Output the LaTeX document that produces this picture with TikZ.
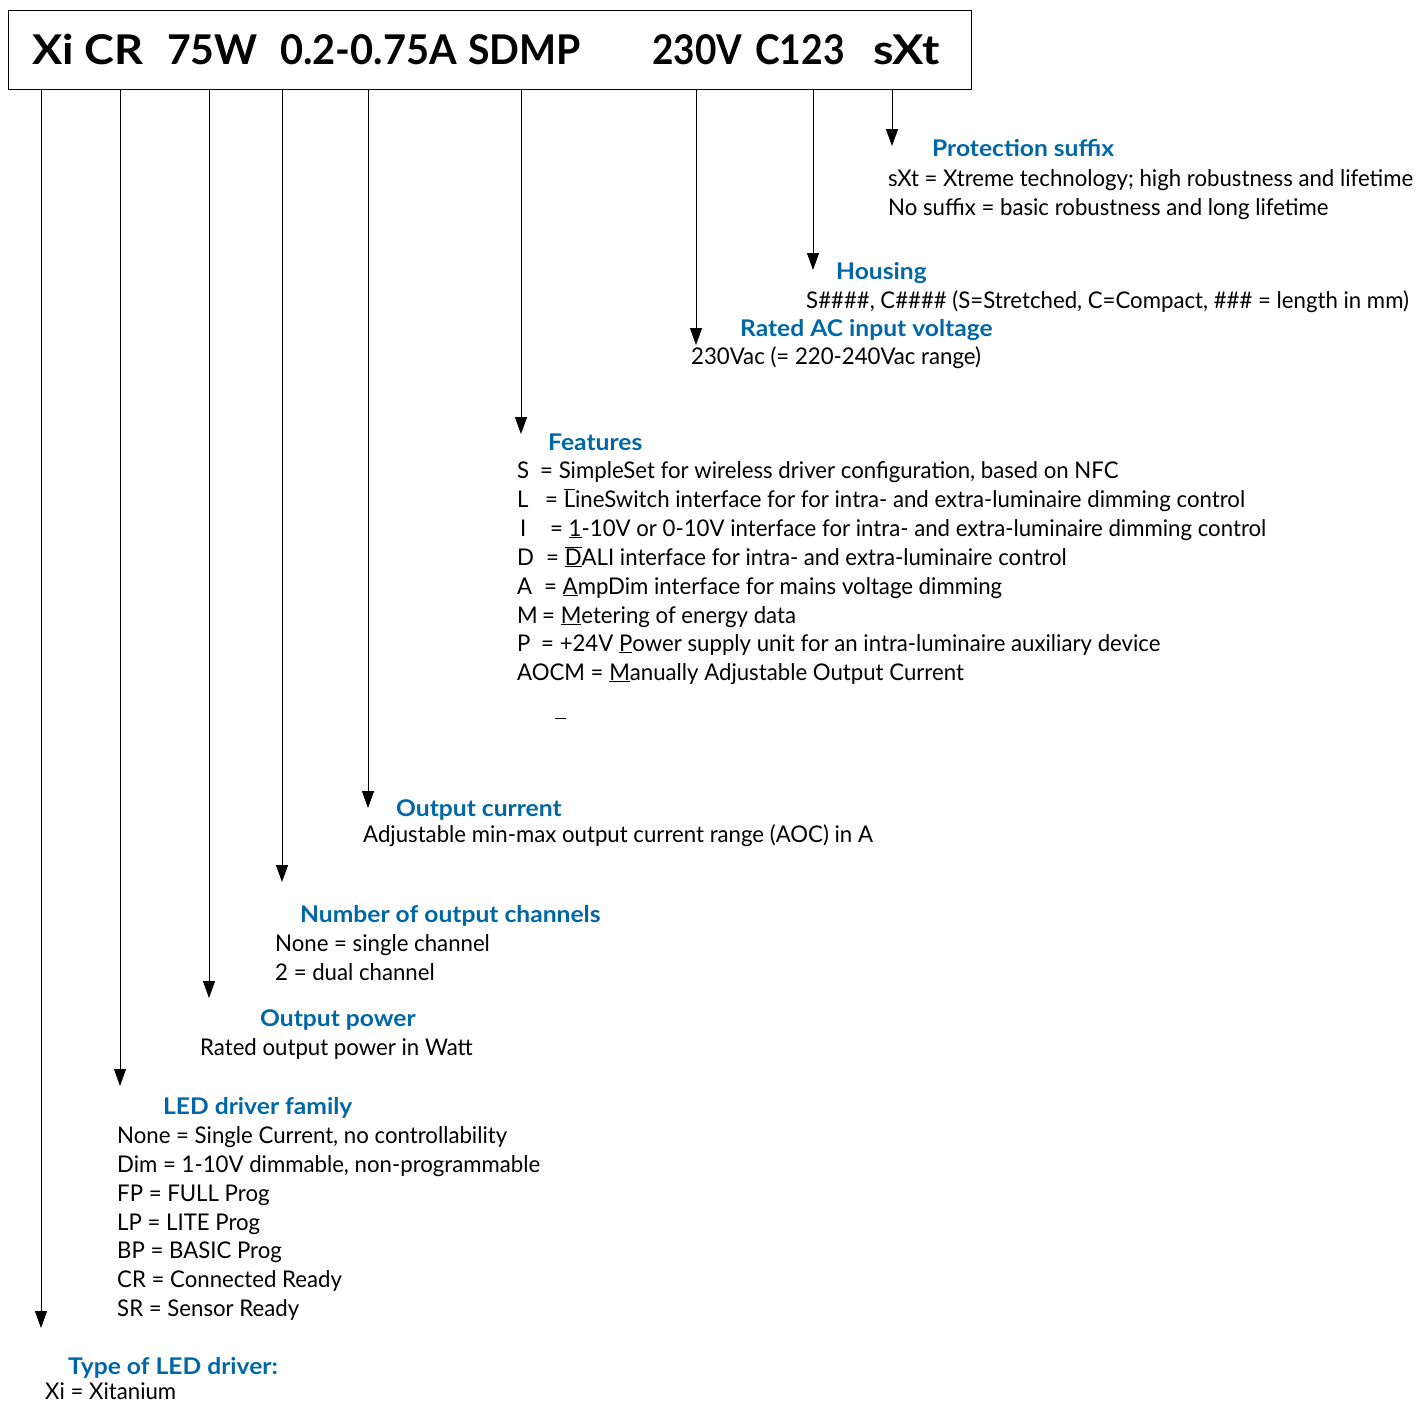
\documentclass[tikz,border=0pt]{standalone}
\usepackage{fontspec}
\setmainfont{Lato}[FakeStretch=0.965]
\newfontfamily\titlefont{Lato}[FakeStretch=1.07]
\newfontfamily\headfont{Lato}
\usetikzlibrary{arrows.meta}
\definecolor{titleblue}{RGB}{0,103,167}
\begin{document}
\begin{tikzpicture}[x=1pt,y=-1pt,
  body/.style={anchor=base west, inner sep=0pt, font=\fontsize{23}{28}\selectfont},
  title/.style={anchor=base west, inner sep=0pt, font=\titlefont\fontsize{23}{28}\selectfont\bfseries, text=titleblue},
  head/.style={anchor=base west, inner sep=0pt, font=\headfont\fontsize{41}{48}\selectfont\bfseries},
  lead/.style={line width=1pt, -{Triangle[length=17pt,width=12pt]}}]
\useasboundingbox (0,0) rectangle (1419,1403);
% header box
\node (box) [draw, line width=1pt, minimum width=963pt, minimum height=79pt, anchor=north west, inner sep=0pt] at (8,10) {};
\node (h1) [head] at (32,64) {\scalebox{1.10}[1]{Xi CR}};
\node (h2) [head] at (167,64) {75W};
\node (h3) [head] at (280,64) {\scalebox{0.97}[1]{0.2-0.75A}};
\node (h4) [head] at (468,64) {\scalebox{0.957}[1]{SDMP}};
\node (h5) [head] at (652,64) {\scalebox{0.90}[1]{230V}};
\node (h6) [head] at (755,64) {\scalebox{0.91}[1]{C123}};
\node (h7) [head] at (873,64) {\scalebox{1.14}[1]{sXt}};
% arrow tips
\coordinate (t1) at (41,1328);
\coordinate (t2) at (120,1086);
\coordinate (t3) at (209,998);
\coordinate (t4) at (282,882);
\coordinate (t5) at (368,808);
\coordinate (t6) at (521,434);
\coordinate (t7) at (696,345);
\coordinate (t8) at (813,270);
\coordinate (t9) at (892,146);
\foreach \t in {t1,t2,t3,t4,t5,t6,t7,t8,t9}
  \draw[lead] (box.south -| \t) -- (\t);
% protection suffix
\node (psT) [title] at (932,156) {Protection suffix};
\node (ps1) [body] at (888,186) {sXt = Xtreme technology; high robustness and lifetime};
\node (ps2) [body] at (888,215) {No suffix = basic robustness and long lifetime};
% housing
\node (hoT) [title] at (836,279) {Housing};
\node (ho1) [body] at (806,308) {S\#\#\#\#, C\#\#\#\# (S=Stretched, C=Compact, \#\#\# = length in mm)};
% rated AC
\node (acT) [title] at (740,336) {Rated AC input voltage};
\node (ac1) [body] at (691,364) {230Vac (= 220-240Vac range)};
% features
\node (feT) [title] at (548,450) {Features};
\node (fe1) [body] at (517,478) {\makebox[23pt][l]{S}= SimpleSet for wireless driver configuration, based on NFC};
\node (fe2) [body] at (517,507) {\makebox[28pt][l]{L}= $\overline{\mbox{L}}$ineSwitch interface for for intra- and extra-luminaire dimming control};
\node (fe3) [body] at (517,536) {\makebox[33pt][l]{\hspace{3pt}I}= \underline{1}-10V or 0-10V interface for intra- and extra-luminaire dimming control};
\node (fe4) [body] at (517,565) {\makebox[29pt][l]{D}= $\overline{\mbox{\underline{D}}}$ALI interface for intra- and extra-luminaire control};
\node (fe5) [body] at (517,594) {\makebox[27pt][l]{A}= \underline{A}mpDim interface for mains voltage dimming};
\node (fe6) [body] at (517,623) {\makebox[25pt][l]{M}= \underline{M}etering of energy data};
\node (fe7) [body] at (517,651) {\makebox[24pt][l]{P}= +24V \underline{P}ower supply unit for an intra-luminaire auxiliary device};
\node (fe8) [body] at (517,680) {AOCM = \underline{M}anually Adjustable Output Current};
\draw[line width=1pt] (555,718) -- (566,718);
% output current
\node (ocT) [title] at (396,816) {Output current};
\node (oc1) [body] at (363,842) {Adjustable min-max output current range (AOC) in A};
% channels
\node (ncT) [title] at (300,922) {Number of output channels};
\node (nc1) [body] at (275,951) {None = single channel};
\node (nc2) [body] at (275,980) {2 = dual channel};
% output power
\node (opT) [title] at (260,1026) {Output power};
\node (op1) [body] at (200,1055) {Rated output power in Watt};
% family
\node (ldT) [title] at (163,1114) {LED driver family};
\node (ld1) [body] at (117,1143) {None = Single Current, no controllability};
\node (ld2) [body] at (117,1172) {Dim = 1-10V dimmable, non-programmable};
\node (ld3) [body] at (117,1201) {FP = FULL Prog};
\node (ld4) [body] at (117,1230) {LP = LITE Prog};
\node (ld5) [body] at (117,1258) {BP = BASIC Prog};
\node (ld6) [body] at (117,1287) {CR = Connected Ready};
\node (ld7) [body] at (117,1316) {SR = Sensor Ready};
% type
\node (tyT) [title] at (68,1374) {Type of LED driver:};
\node (ty1) [body] at (45,1399) {Xi = Xitanium};
\end{tikzpicture}
\end{document}
